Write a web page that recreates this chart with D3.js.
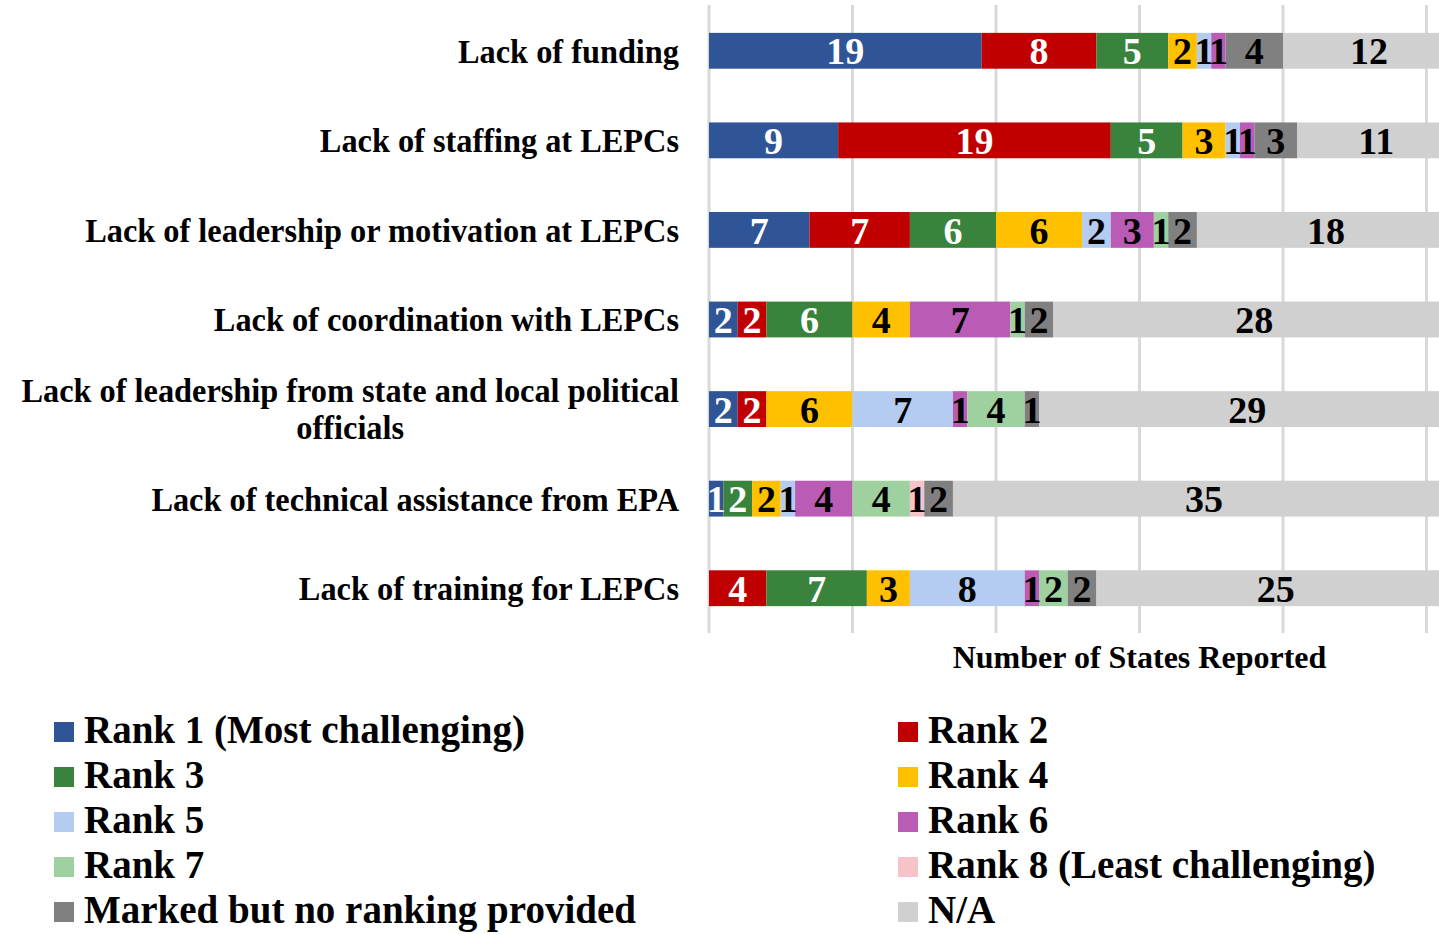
<!DOCTYPE html>
<html>
<head>
<meta charset="utf-8">
<script src="https://cdn.jsdelivr.net/npm/d3@7"></script>
<style>
  body { margin: 0; background: #fff; }
  svg { display: block; font-family: "Liberation Serif", "Times New Roman", serif; font-weight: bold; }
</style>
</head>
<body>
<div id="chart"></div>
<script>
// categories (top to bottom)
const categories = [
  "Lack of funding",
  "Lack of staffing at LEPCs",
  "Lack of leadership or motivation at LEPCs",
  "Lack of coordination with LEPCs",
  "Lack of leadership from state and local political officials",
  "Lack of technical assistance from EPA",
  "Lack of training for LEPCs"
];

// number of states per rank, same order as categories
const rank1  = [19, 9, 7, 2, 2, 1, 0];
const rank2  = [8, 19, 7, 2, 2, 0, 4];
const rank3  = [5, 5, 6, 6, 0, 2, 7];
const rank4  = [2, 3, 6, 4, 6, 2, 3];
const rank5  = [1, 1, 2, 0, 7, 1, 8];
const rank6  = [1, 1, 3, 7, 1, 4, 1];
const rank7  = [0, 0, 1, 1, 4, 4, 2];
const rank8  = [0, 0, 0, 0, 0, 1, 0];
const marked = [4, 3, 2, 2, 1, 2, 2];
const na     = [12, 11, 18, 28, 29, 35, 25];

const seriesNames = [
  "Rank 1 (Most challenging)", "Rank 2", "Rank 3", "Rank 4", "Rank 5",
  "Rank 6", "Rank 7", "Rank 8 (Least challenging)",
  "Marked but no ranking provided", "N/A"
];
const seriesValues = [rank1, rank2, rank3, rank4, rank5, rank6, rank7, rank8, marked, na];
const colors = ["#2F5597", "#C00000", "#3A833C", "#FFC000", "#B4CCF2",
                "#BA5CB6", "#9FD09F", "#F5C3C8", "#808080", "#D0D0D0"];
const labelColors = ["#fff", "#fff", "#fff", "#000", "#000", "#000", "#000", "#000", "#000", "#000"];

const xTicks = [0, 10, 20, 30, 40, 50, 60];

const W = 1439, H = 934;
const svg = d3.select("#chart").append("svg")
  .attr("width", W)
  .attr("height", H);

// build rows for the stack
const rows = categories.map((c, i) => {
  const r = { category: c };
  seriesNames.forEach((s, j) => r[s] = seriesValues[j][i]);
  return r;
});
const stacked = d3.stack().keys(seriesNames)(rows);

const x = d3.scaleLinear().domain([0, 60]).range([709, 1570]);
const y = d3.scaleBand().domain(categories).range([6, 633])
  .paddingInner(0.6).paddingOuter(0.3);

// gridlines
svg.append("g")
  .attr("class", "grid")
  .selectAll("line")
  .data(xTicks)
  .join("line")
  .attr("x1", d => x(d)).attr("x2", d => x(d))
  .attr("y1", 5).attr("y2", 633)
  .attr("stroke", "#D9D9D9")
  .attr("stroke-width", 3);

// bars
const layer = svg.append("g").selectAll("g")
  .data(stacked)
  .join("g")
  .attr("fill", (d, i) => colors[i]);

layer.selectAll("rect")
  .data(d => d)
  .join("rect")
  .attr("x", d => x(d[0]))
  .attr("y", d => y(d.data.category))
  .attr("width", d => x(d[1]) - x(d[0]))
  .attr("height", y.bandwidth());

// value labels
stacked.forEach((s, i) => {
  svg.append("g")
    .selectAll("text")
    .data(s.filter(d => d[1] - d[0] > 0))
    .join("text")
    .attr("x", d => (x(d[0]) + x(d[1])) / 2)
    .attr("y", d => y(d.data.category) + y.bandwidth() / 2)
    .attr("dy", "0.36em")
    .attr("text-anchor", "middle")
    .attr("fill", labelColors[i])
    .style("font-size", "38px")
    .text(d => d[1] - d[0]);
});

// category labels, slightly condensed, wrapped when too long
const labelRight = 679, sx = 0.98, maxW = 700, lh = 37;
const catLabels = svg.append("g")
  .selectAll("text")
  .data(categories)
  .join("text")
  .attr("transform", `translate(${labelRight},0) scale(${sx},1)`)
  .attr("x", 0)
  .attr("y", d => y(d) + y.bandwidth() / 2)
  .style("font-size", "33px")
  .text(d => d);

catLabels.each(function(d) {
  const t = d3.select(this);
  const words = d.split(" ");
  let lines = [], line = [];
  t.text(null);
  const probe = t.append("tspan");
  words.forEach(w => {
    line.push(w);
    probe.text(line.join(" "));
    if (probe.node().getComputedTextLength() > maxW && line.length > 1) {
      line.pop();
      lines.push(line.join(" "));
      line = [w];
    }
  });
  lines.push(line.join(" "));
  probe.text(lines[0]);
  const w0 = probe.node().getComputedTextLength();
  probe.remove();
  const cy = y(d) + y.bandwidth() / 2;
  if (lines.length === 1) {
    t.attr("text-anchor", "end").attr("dy", "0.36em").text(lines[0]);
  } else {
    // centred on the first (widest) line
    t.attr("text-anchor", "middle");
    lines.forEach((l, k) => {
      t.append("tspan")
        .attr("x", -w0 / 2)
        .attr("y", cy + (k - (lines.length - 1) / 2) * lh)
        .attr("dy", "0.36em")
        .text(l);
    });
  }
});

// axis title
svg.append("text")
  .attr("x", (x(0) + x(60)) / 2)
  .attr("y", 668)
  .attr("text-anchor", "middle")
  .style("font-size", "32px")
  .text("Number of States Reported");

// legend
const legend = svg.append("g")
  .selectAll("g")
  .data(seriesNames)
  .join("g")
  .attr("transform", (d, i) => `translate(${i % 2 === 0 ? 54 : 898},${743 + Math.floor(i / 2) * 45})`);

legend.append("rect")
  .attr("x", 0).attr("y", -21)
  .attr("width", 20).attr("height", 20)
  .attr("fill", (d, i) => colors[i]);

legend.append("text")
  .attr("x", 30)
  .attr("y", 0)
  .style("font-size", "39px")
  .text(d => d);
</script>
</body>
</html>
